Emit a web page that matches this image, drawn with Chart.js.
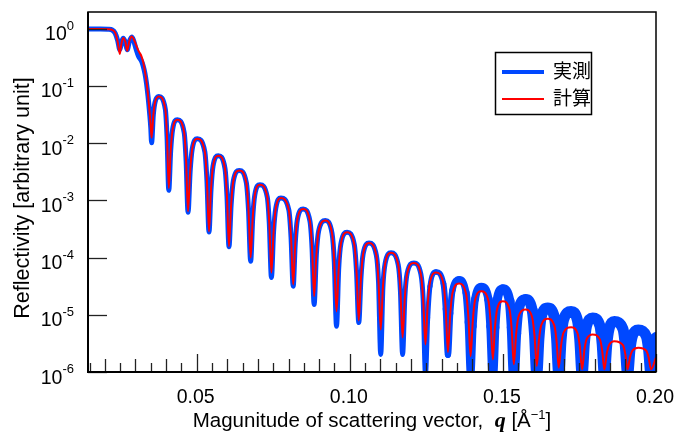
<!DOCTYPE html>
<html>
<head>
<meta charset="utf-8">
<script src="https://cdn.jsdelivr.net/npm/chart.js@4.4.1/dist/chart.umd.min.js"></script>
<style>
  html, body { margin: 0; padding: 0; background: #fff; }
</style>
</head>
<body>
<canvas id="xrr" width="675" height="432"></canvas>
<script>
// ----------------------
//  DATA
// ----------------------

// scattering vector q [1/A], shared by both curves
const q = [
    0.0146, 0.0185, 0.0211, 0.0224, 0.0234, 0.0242, 0.0249, 0.0254, 0.0260, 0.0267, 0.0273, 0.0280,
    0.0288, 0.0294, 0.0302, 0.0310, 0.0320, 0.0325, 0.0331, 0.0336, 0.0341, 0.0347, 0.0350,
    0.03527,
    0.03583, 0.03639, 0.03762, 0.03976, 0.04032, 0.04088,
    0.04151, 0.04214, 0.04368, 0.04591, 0.04654, 0.04717,
    0.04786, 0.04854, 0.05020, 0.05265, 0.05334, 0.05402,
    0.05467, 0.05532, 0.05705, 0.05924, 0.05989, 0.06054,
    0.06125, 0.06196, 0.06390, 0.06620, 0.06691, 0.06762,
    0.06830, 0.06898, 0.07065, 0.07304, 0.07372, 0.07440,
    0.07511, 0.07582, 0.07750, 0.08009, 0.08080, 0.08151,
    0.08219, 0.08288, 0.08477, 0.08698, 0.08767, 0.08835,
    0.08908, 0.08981, 0.09201, 0.09420, 0.09493, 0.09566,
    0.09639, 0.09711, 0.09911, 0.10148, 0.10220, 0.10293,
    0.10365, 0.10436, 0.10629, 0.10867, 0.10938, 0.11010,
    0.11081, 0.11153, 0.11346, 0.11581, 0.11653, 0.11724,
    0.11799, 0.11873, 0.12093, 0.12322, 0.12396, 0.12471,
    0.12544, 0.12618, 0.12816, 0.13058, 0.13132, 0.13205,
    0.13279, 0.13353, 0.13570, 0.13797, 0.13871, 0.13945,
    0.14018, 0.14090, 0.14294, 0.14527, 0.14599, 0.14672,
    0.14740, 0.14809, 0.14998, 0.15219, 0.15288, 0.15356,
    0.15431, 0.15506, 0.15738, 0.15956, 0.16031, 0.16106,
    0.16178, 0.16250, 0.16465, 0.16680, 0.16752, 0.16824,
    0.16900, 0.16977, 0.17228, 0.17434, 0.17511, 0.17587,
    0.17660, 0.17732, 0.17932, 0.18169, 0.18241, 0.18314,
    0.18390, 0.18466, 0.18640, 0.18921, 0.18997, 0.19073,
    0.19149, 0.19226, 0.19422, 0.19683, 0.19760, 0.19836,
    0.2000
];

// measured reflectivity (blue)
const rMeas = [
    0.99, 0.99, 0.98, 0.95, 0.83, 0.62, 0.43, 0.56, 0.68, 0.58, 0.43, 0.60,
    0.72, 0.62, 0.44, 0.33, 0.27, 0.225, 0.165, 0.112, 0.066, 0.030, 0.0185,
    0.0102,
    0.0310, 0.0518, 0.0653, 0.0390, 0.01245, 0.0015,
    0.00745, 0.0174, 0.0256, 0.01528, 0.00488, 6.2e-4,
    0.00321, 0.00793, 0.01194, 0.00708, 0.00223, 2.8e-4,
    0.00153, 0.00394, 0.00603, 0.00361, 0.00117, 1.55e-4,
    8.45e-4, 0.00218, 0.00334, 0.00205, 6.89e-4, 8.6e-5,
    5.02e-4, 0.00125, 0.00188, 0.00115, 3.83e-4, 4.48e-5,
    2.85e-4, 7.23e-4, 1.10e-3, 6.76e-4, 2.30e-4, 3.16e-5,
    1.80e-4, 4.62e-4, 7.08e-4, 4.33e-4, 1.46e-4, 1.51e-5,
    1.13e-4, 2.89e-4, 4.43e-4, 2.65e-4, 8.53e-5, 6.3e-6,
    6.59e-5, 1.77e-4, 2.77e-4, 1.68e-4, 5.61e-5, 7.3e-6,
    4.42e-5, 1.16e-4, 1.79e-4, 1.10e-4, 3.74e-5, 2.03e-6,
    3.01e-5, 7.85e-5, 1.21e-4, 7.50e-5, 2.61e-5, 2.03e-6,
    2.09e-5, 5.31e-5, 8.07e-5, 5.09e-5, 1.85e-5, 9e-7,
    8.81e-6, 3.15e-5, 5.6e-5, 3.52e-5, 1.26e-5, 2.0e-6,
    1.06e-5, 2.70e-5, 4.13e-5, 2.42e-5, 7.38e-6, 9e-7,
    6.28e-6, 1.88e-5, 3.08e-5, 1.88e-5, 6.28e-6, 9e-7,
    5.98e-6, 1.74e-5, 2.82e-5, 1.74e-5, 5.98e-6, 9e-7,
    4.74e-6, 1.21e-5, 1.85e-5, 1.21e-5, 4.74e-6, 9e-7,
    3.94e-6, 9.04e-6, 1.31e-5, 9.04e-6, 3.94e-6, 9e-7,
    3.64e-6, 8.0e-6, 1.14e-5, 8.0e-6, 3.64e-6, 9e-7,
    3.15e-6, 6.38e-6, 8.8e-6, 6.38e-6, 3.15e-6, 9e-7,
    2.92e-6, 5.66e-6, 7.6e-6, 5.66e-6, 2.92e-6, 9e-7,
    2.42e-6, 4.23e-6, 5.4e-6, 4.23e-6, 2.42e-6, 9e-7,
    4.0e-6
];

// calculated reflectivity (red)
const rCalc = [
    0.99, 0.99, 0.98, 0.953, 0.845, 0.589, 0.363, 0.543, 0.69, 0.589, 0.41, 0.612,
    0.734, 0.66, 0.521, 0.41, 0.326, 0.264, 0.178, 0.119, 0.070, 0.0313, 0.0193,
    0.0124,
    0.0310, 0.0518, 0.0653, 0.0390, 0.01245, 0.00164,
    0.00745, 0.0174, 0.0256, 0.01528, 0.00488, 6.43e-4,
    0.00321, 0.00793, 0.01194, 0.00708, 0.00223, 2.88e-4,
    0.00153, 0.00394, 0.00603, 0.00361, 0.00117, 1.57e-4,
    8.45e-4, 0.00218, 0.00334, 0.00205, 6.89e-4, 1.0e-4,
    5.02e-4, 0.00125, 0.00188, 0.00115, 3.83e-4, 5.47e-5,
    2.85e-4, 7.23e-4, 1.10e-3, 6.76e-4, 2.30e-4, 3.38e-5,
    1.80e-4, 4.62e-4, 7.08e-4, 4.33e-4, 1.46e-4, 2.11e-5,
    1.13e-4, 2.89e-4, 4.43e-4, 2.65e-4, 8.53e-5, 1.14e-5,
    6.59e-5, 1.77e-4, 2.77e-4, 1.68e-4, 5.61e-5, 7.96e-6,
    4.42e-5, 1.16e-4, 1.79e-4, 1.10e-4, 3.74e-5, 5.53e-6,
    3.01e-5, 7.85e-5, 1.21e-4, 7.50e-5, 2.61e-5, 4.02e-6,
    2.09e-5, 5.31e-5, 8.07e-5, 5.09e-5, 1.85e-5, 3.03e-6,
    1.49e-5, 3.65e-5, 5.47e-5, 3.50e-5, 1.30e-5, 2.24e-6,
    1.02e-5, 2.39e-5, 3.52e-5, 2.33e-5, 9.44e-6, 1.89e-6,
    7.96e-6, 1.79e-5, 2.58e-5, 1.76e-5, 7.52e-6, 1.66e-6,
    6.01e-6, 1.24e-5, 1.73e-5, 1.21e-5, 5.50e-6, 1.36e-6,
    4.57e-6, 9.08e-6, 1.24e-5, 8.99e-6, 4.44e-6, 1.27e-6,
    3.61e-6, 6.52e-6, 8.51e-6, 6.46e-6, 3.51e-6, 1.19e-6,
    2.92e-6, 4.84e-6, 6.08e-6, 4.80e-6, 2.82e-6, 1.11e-6,
    2.40e-6, 3.72e-6, 4.53e-6, 3.72e-6, 2.40e-6, 1.11e-6,
    2.07e-6, 2.95e-6, 3.46e-6, 2.95e-6, 2.07e-6, 1.11e-6,
    1.79e-6, 2.35e-6, 2.65e-6, 2.35e-6, 1.79e-6, 1.11e-6,
    1.8e-6
];

// axes
const xTickValues = [0.05, 0.10, 0.15, 0.20];
const xTickLabels = ['0.05', '0.10', '0.15', '0.20'];
const yTickExponents = [0, -1, -2, -3, -4, -5, -6];
const seriesLabels = ['実測', '計算'];

const X_MIN = 0.0145, X_MAX = 0.2;
const Y_MIN = 1e-6, Y_MAX = 1.96;
const BLUE = 'rgb(0, 72, 255)';
const RED = 'rgb(255, 0, 0)';
const SANS = '"Liberation Sans", Arial, sans-serif';
const CJK = '"Noto Sans CJK JP", "Noto Sans CJK SC", sans-serif';

// measured curve gets visibly noisier (thicker) at high q
function measWidth(qv) {
    if (qv < 0.125) return 5;
    return Math.min(11, 5 + (qv - 0.125) * 180);
}

// ----------------------
//  AXES, FRAME, LEGEND
// ----------------------
const framePlugin = {
    id: 'frame',
    afterDatasetsDraw(chart) {
        const c = chart.ctx;
        const a = chart.chartArea;
        const xs = chart.scales.x;
        const ys = chart.scales.y;
        c.save();

        // x ticks, pointing inwards
        c.strokeStyle = '#222';
        c.lineWidth = 1.3;
        for (let k = 3; k <= 40; k++) {
            const v = k * 0.005;
            const px = Math.round(xs.getPixelForValue(v)) + 0.5;
            let len = 9;
            if (k % 10 === 0) len = 18;
            else if (k % 2 === 0) len = 13;
            c.beginPath();
            c.moveTo(px, a.bottom);
            c.lineTo(px, a.bottom - len);
            c.stroke();
        }

        // y ticks
        yTickExponents.forEach(e => {
            const py = Math.round(ys.getPixelForValue(Math.pow(10, e))) + 0.5;
            c.beginPath();
            c.moveTo(a.left, py);
            c.lineTo(a.left + 19, py);
            c.stroke();
        });

        // frame
        c.strokeStyle = '#000';
        c.lineWidth = 1.5;
        c.strokeRect(a.left, a.top, a.right - a.left, a.bottom - a.top);
        c.lineWidth = 2;
        c.beginPath();
        c.moveTo(a.left, a.top);
        c.lineTo(a.left, a.bottom);
        c.lineTo(a.right, a.bottom);
        c.stroke();

        // x tick labels
        c.fillStyle = '#000';
        c.font = '19.5px ' + SANS;
        c.textAlign = 'center';
        c.textBaseline = 'alphabetic';
        xTickValues.forEach((v, i) => {
            c.fillText(xTickLabels[i], xs.getPixelForValue(v) - 1, 403);
        });

        // y tick labels: 10 with exponent
        c.textAlign = 'right';
        yTickExponents.forEach(e => {
            const py = ys.getPixelForValue(Math.pow(10, e));
            const sup = String(e);
            c.font = '13px ' + SANS;
            const w = c.measureText(sup).width;
            c.fillText(sup, 74, py + 1);
            c.font = '19.5px ' + SANS;
            c.fillText('10', 74 - w, py + 11.5);
        });

        // y title
        c.save();
        c.translate(28.5, (a.top + a.bottom) / 2 + 6);
        c.rotate(-Math.PI / 2);
        c.textAlign = 'center';
        c.font = '21.5px ' + SANS;
        c.fillText('Reflectivity [arbitrary unit]', 0, 0);
        c.restore();

        // x title with bold italic q and superscript
        const parts = [
            { t: 'Magunitude of scattering vector,  ', f: '20.5px ' + SANS, dy: 0 },
            { t: 'q', f: 'bold italic 22px "Liberation Serif", "Times New Roman", serif', dy: 0 },
            { t: ' [Å', f: '20.5px ' + SANS, dy: 0 },
            { t: '−1', f: '13px ' + SANS, dy: -8 },
            { t: ']', f: '20.5px ' + SANS, dy: 0 }
        ];
        let total = 0;
        parts.forEach(p => { c.font = p.f; p.w = c.measureText(p.t).width; total += p.w; });
        let x0 = (a.left + a.right) / 2 - total / 2;
        c.textAlign = 'left';
        parts.forEach(p => {
            c.font = p.f;
            c.fillText(p.t, x0, 427 + p.dy);
            x0 += p.w;
        });

        // legend
        c.lineWidth = 1.5;
        c.strokeStyle = '#000';
        c.strokeRect(495.5, 52.5, 96, 62);
        c.lineCap = 'butt';
        c.strokeStyle = BLUE;
        c.lineWidth = 4;
        c.beginPath(); c.moveTo(502, 72); c.lineTo(544, 72); c.stroke();
        c.strokeStyle = RED;
        c.lineWidth = 2;
        c.beginPath(); c.moveTo(502, 99); c.lineTo(544, 99); c.stroke();
        c.fillStyle = '#000';
        c.font = '19px ' + CJK;
        c.textBaseline = 'middle';
        c.fillText(seriesLabels[0], 553, 71);
        c.fillText(seriesLabels[1], 553, 98);

        c.restore();
    }
};

// ----------------------
//  CHART
// ----------------------
const ctx = document.getElementById('xrr').getContext('2d');
new Chart(ctx, {
    type: 'line',
    data: {
        datasets: [{
            label: seriesLabels[1],
            data: q.map((x, i) => ({ x: x, y: rCalc[i] })),
            borderColor: RED,
            borderWidth: 2,
            pointRadius: 0,
            cubicInterpolationMode: 'monotone',
            order: 0
        }, {
            label: seriesLabels[0],
            data: q.map((x, i) => ({ x: x, y: rMeas[i] })),
            borderColor: BLUE,
            borderWidth: 5,
            borderCapStyle: 'round',
            borderJoinStyle: 'round',
            segment: {
                borderWidth: s => measWidth(s.p0.parsed.x)
            },
            pointRadius: 0,
            cubicInterpolationMode: 'monotone',
            order: 1
        }]
    },
    options: {
        responsive: false,
        animation: false,
        devicePixelRatio: 1,
        layout: { padding: { left: 88, right: 19, top: 12, bottom: 60 } },
        scales: {
            x: { type: 'linear', min: X_MIN, max: X_MAX, display: false },
            y: { type: 'logarithmic', min: Y_MIN, max: Y_MAX, display: false }
        },
        plugins: {
            legend: { display: false },
            tooltip: { enabled: false }
        }
    },
    plugins: [framePlugin]
});
</script>
</body>
</html>
